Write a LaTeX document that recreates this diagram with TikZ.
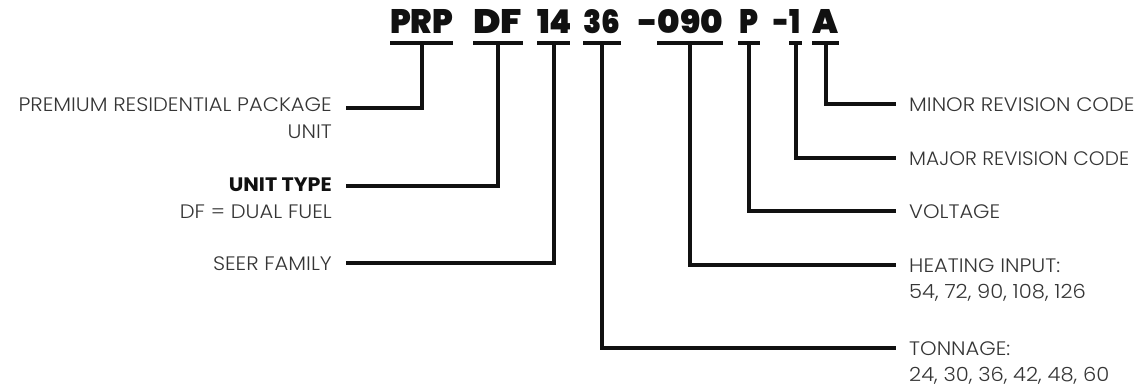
\documentclass[tikz,border=0pt]{standalone}
\usepackage{fontspec}
\newfontfamily\labfont{Poppins Light}[FakeStretch=1.08]
\newfontfamily\boldfont{Poppins}[FakeStretch=1.06]
\newfontfamily\codefont{Poppins Black}
\definecolor{labgrey}{HTML}{353535}
\definecolor{ink}{HTML}{111111}
\begin{document}
\begin{tikzpicture}[x=1pt,y=-1pt,
  lab/.style={font=\labfont\fontsize{19.5}{22}\selectfont, text=labgrey, inner sep=0pt},
  labb/.style={font=\boldfont\bfseries\fontsize{19.5}{22}\selectfont, text=ink, inner sep=0pt},
  code/.style={inner sep=0pt, anchor=base west, text=ink},
  bar/.style={fill=ink, inner sep=0pt, minimum height=4pt, anchor=west},
  conn/.style={draw=ink, line width=3.6pt}]
\useasboundingbox (0,0) rectangle (1141,386);
% code segments
\node[code] (tPRP) at (390,33) {\resizebox{63pt}{24pt}{\codefont PRP}};
\node[code] (tDF)  at (473,33) {\resizebox{49pt}{24pt}{\codefont DF}};
\node[code] (t14)  at (537,33) {\resizebox{35pt}{24pt}{\codefont 14}};
\node[code] (t36)  at (583,33) {\resizebox{37pt}{24pt}{\codefont 36}};
\node[code] (t090) at (638,33) {\resizebox{85pt}{24pt}{\codefont -090}};
\node[code] (tP)   at (739,33) {\resizebox{19pt}{24pt}{\codefont P}};
\node[code] (t1)   at (773,33) {\resizebox{27pt}{24pt}{\codefont -1}};
\node[code] (tA)   at (812,33) {\resizebox{26pt}{24pt}{\codefont A}};
% underlines
\node[bar, minimum width=63pt] (u1) at (390,43) {};
\node[bar, minimum width=50pt] (u2) at (473,43) {};
\node[bar, minimum width=33pt] (u3) at (537,43) {};
\node[bar, minimum width=38pt] (u4) at (583,43) {};
\node[bar, minimum width=66pt] (u5) at (657,43) {};
\node[bar, minimum width=22pt] (u6) at (738,43) {};
\node[bar, minimum width=13pt] (u7) at (789,43) {};
\node[bar, minimum width=27pt] (u8) at (812,43) {};
% left labels
\node[lab, anchor=base east] (l1)  at (332,111.5) {PREMIUM RESIDENTIAL PACKAGE};
\node[lab, anchor=base east] (l1b) at (332,138) {UNIT};
\node[labb, anchor=base east] (l2) at (332,191) {UNIT TYPE};
\node[lab, anchor=base east] (l2b) at (332,218) {DF = DUAL FUEL};
\node[lab, anchor=base east] (l3)  at (332,270) {SEER FAMILY};
% right labels
\node[lab, anchor=base west] (r8)  at (909,111) {MINOR REVISION CODE};
\node[lab, anchor=base west] (r7)  at (909,165) {\scalebox{0.955}[1]{MAJOR REVISION CODE}};
\node[lab, anchor=base west] (r6)  at (909,218) {VOLTAGE};
\node[lab, anchor=base west] (r5)  at (909,272) {HEATING INPUT:};
\node[lab, anchor=base west] (r5b) at (909,298) {54, 72, 90, 108, 126};
\node[lab, anchor=base west] (r4)  at (909,355) {TONNAGE:};
\node[lab, anchor=base west] (r4b) at (909,381) {24, 30, 36, 42, 48, 60};
% connector ends
\coordinate (e1) at (346,108);
\coordinate (e2) at (346,186);
\coordinate (e3) at (346,263);
\coordinate (e8) at (896,104);
\coordinate (e7) at (896,158);
\coordinate (e6) at (896,211);
\coordinate (e5) at (896,265);
\coordinate (e4) at (896,348);
% connectors
\draw[conn] (u1.center) |- (e1);
\draw[conn] (u2.center) |- (e2);
\draw[conn] (u3.center) |- (e3);
\draw[conn] (u4.center) |- (e4);
\draw[conn] (u5.center) |- (e5);
\draw[conn] (u6.center) |- (e6);
\draw[conn] (u7.center) |- (e7);
\draw[conn] (u8.center) |- (e8);
\end{tikzpicture}
\end{document}
